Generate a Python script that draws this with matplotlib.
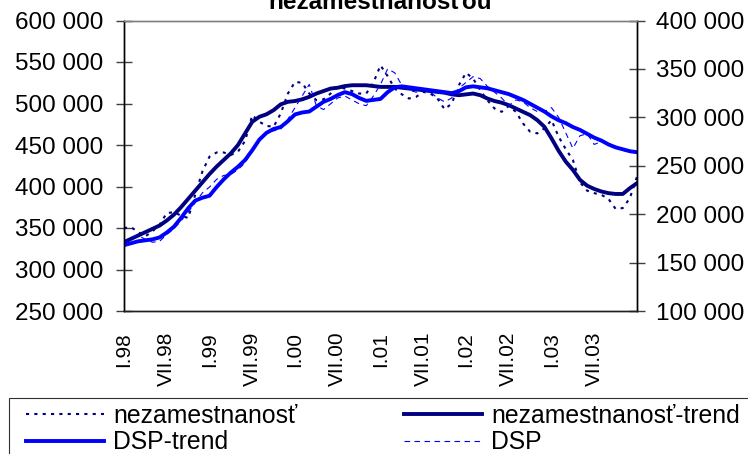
import matplotlib
matplotlib.use("Agg")
import matplotlib.pyplot as plt
from matplotlib.patches import Rectangle
from matplotlib.ticker import FuncFormatter, FixedLocator

plt.rcParams['font.family'] = ['Liberation Sans', 'DejaVu Sans']

# monthly categories I.98 .. I.04 (73 months)
roman = ["I", "II", "III", "IV", "V", "VI", "VII", "VIII", "IX", "X", "XI", "XII"]
months = [f"{roman[m]}.{y:02d}" for y in (98, 99, 0, 1, 2, 3) for m in range(12)] + ["I.04"]
tick_labels = ["I.98", "VII.98", "I.99", "VII.99", "I.00", "VII.00",
               "I.01", "VII.01", "I.02", "VII.02", "I.03", "VII.03"]

# nezamestnanosť (left axis), thousands of persons
nezam = [350, 351, 345, 340, 346, 354, 368, 369, 365, 362, 390, 418,
         436, 441, 441, 438, 442, 455, 486, 478, 473, 472, 488, 512,
         526, 525, 512, 504, 505, 512, 520, 518, 515, 512, 512, 525,
         546, 533, 518, 511, 506, 508, 514, 512, 506, 493, 500, 522,
         537, 530, 516, 504, 494, 490, 497, 490, 476, 466, 464, 470,
         480, 460, 445, 432, 405, 395, 392, 390, 385, 373, 374, 386,
         412]
nezam_trend = [333, 337, 341, 345, 349, 353, 359, 366, 375, 385, 395, 405,
               415, 424, 432, 440, 450, 464, 478, 484, 487, 492, 499, 502,
               503, 505, 508, 512, 515, 518, 519, 521, 522, 522, 522, 521,
               520, 520, 520, 519, 518, 517, 516, 515, 514, 513, 511, 510,
               511, 512, 510, 506, 503, 501, 498, 494, 490, 486, 480, 472,
               458, 443, 430, 420, 408, 401, 397, 394, 392, 391, 391, 398,
               404]
# DSP (right axis), thousands
dsp_trend = [168, 170, 172, 173, 174, 176, 181, 187, 196, 206, 214, 217,
             219, 228, 236, 243, 249, 256, 266, 277, 284, 288, 290, 296,
             303, 305, 306, 311, 316, 319, 323, 326, 324, 320, 317, 318,
             319, 326, 331, 332, 331, 330, 329, 328, 327, 326, 325, 327,
             331, 332, 331, 330, 328, 326, 324, 321, 318, 314, 310, 306,
             301, 297, 294, 290, 287, 283, 279, 276, 272, 269, 267, 265,
             264]
dsp = [170, 176, 178, 174, 171, 172, 179, 185, 193, 202, 212, 222,
       228, 236, 240, 241, 246, 253, 266, 276, 285, 286, 288, 298,
       310, 322, 334, 312, 308, 314, 320, 322, 318, 314, 312, 322,
       334, 350, 346, 333, 328, 326, 328, 326, 320, 316, 320, 330,
       336, 342, 340, 332, 326, 320, 312, 318, 316, 310, 306, 306,
       310, 300, 284, 268, 281, 283, 272, 275, 272, 270, 266, 264,
       265]

nezam = [v * 1000 for v in nezam]
nezam_trend = [v * 1000 for v in nezam_trend]
dsp = [v * 1000 for v in dsp]
dsp_trend = [v * 1000 for v in dsp_trend]
x = list(range(len(months)))

W, H = 748, 454
fig = plt.figure(figsize=(W / 100, H / 100), dpi=100)
ax = fig.add_axes([124 / W, 1 - 311 / H, (637 - 124) / W, (311 - 20.5) / H])
ax2 = ax.twinx()

navy = "#000080"
blue = "#0000FF"

l1, = ax.plot(x, nezam, color=navy, lw=1.5, linestyle=(0, (1.5, 2.5)),
              label="nezamestnanosť")
l2, = ax.plot(x, nezam_trend, color=navy, lw=2.8, label="nezamestnanosť-trend")
l3, = ax2.plot(x, dsp_trend, color=blue, lw=2.8, label="DSP-trend")
l4, = ax2.plot(x, dsp, color=blue, lw=0.8, linestyle=(0, (5, 4)), label="DSP")

ax.set_xlim(0, 72)
ax.set_ylim(250000, 600000)
ax2.set_ylim(100000, 400000)
ax.set_yticks(range(250000, 600001, 50000))
ax2.set_yticks(range(100000, 400001, 50000))
fmt = FuncFormatter(lambda v, p: f"{int(v):,}".replace(",", " "))
ax.yaxis.set_major_formatter(fmt)
ax2.yaxis.set_major_formatter(fmt)

tick_pos = [months.index(t) for t in tick_labels]
ax.xaxis.set_major_locator(FixedLocator(tick_pos))
ax.set_xticklabels(tick_labels, rotation=90, fontsize=15)
ax.tick_params(axis='x', length=0, pad=15)
ax.tick_params(axis='y', direction='inout', length=11.5, width=1, color='#404040',
               labelsize=17.5, pad=9.4)
ax2.tick_params(axis='y', direction='inout', length=11.5, width=1, color='#404040',
                labelsize=17.5, pad=8)

for a in (ax, ax2):
    a.spines['top'].set_color('#808080')
    a.spines['left'].set_color('black')
    a.spines['right'].set_color('black')
    a.spines['bottom'].set_color('#202020')
    for s in a.spines.values():
        s.set_linewidth(1)

fig.text(380 / W, 1 - 9.3 / H, "nezamestnanosťou", ha='center', va='baseline',
         fontsize=17.5, fontweight='bold')

# legend frame (extends past the right and bottom edges as in the reference)
fig.patches.append(Rectangle((9 / W, -0.2), 2.0, 1 - 398 / H + 0.2,
                             transform=fig.transFigure, fill=False,
                             ec='#303030', lw=0.8))
leg = fig.legend(handles=[l1, l3, l2, l4], ncol=2, loc='upper left',
                 bbox_to_anchor=(26 / W, 1 - 404 / H), frameon=False,
                 fontsize=17.8, borderpad=0, borderaxespad=0, labelspacing=0.1,
                 handlelength=3.15, handletextpad=0.38, columnspacing=4.3)

fig.savefig("out.png", dpi=100)
